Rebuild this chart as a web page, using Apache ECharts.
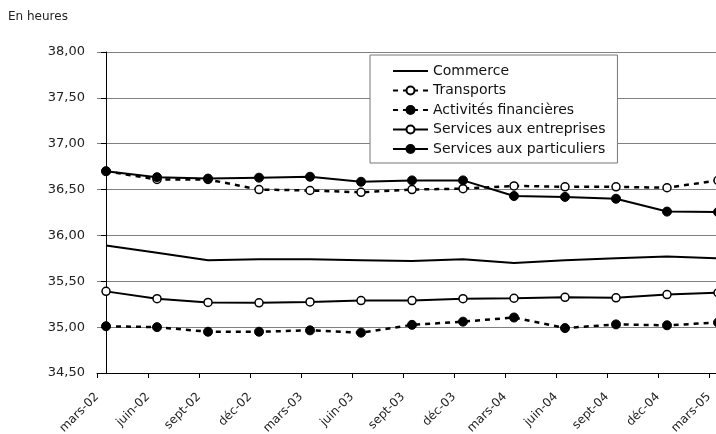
<!DOCTYPE html>
<html>
<head>
<meta charset="utf-8">
<script src="https://cdn.jsdelivr.net/npm/echarts@6/dist/echarts.min.js"></script>
<style>
html,body{margin:0;padding:0;background:#fff;}
#c{width:716px;height:434px;}
</style>
</head>
<body>
<div id="c"></div>
<script>
const categories = ['mars-02','juin-02','sept-02','déc-02','mars-03','juin-03','sept-03','déc-03','mars-04','juin-04','sept-04','déc-04','mars-05'];
const commerce = [35.89,35.81,35.73,35.74,35.74,35.73,35.72,35.74,35.70,35.73,35.75,35.77,35.75];
const transports = [36.70,36.61,36.61,36.50,36.49,36.47,36.50,36.51,36.54,36.53,36.53,36.52,36.60];
const financieres = [35.01,35.00,34.95,34.95,34.965,34.94,35.025,35.06,35.105,34.99,35.03,35.02,35.05];
const entreprises = [35.39,35.31,35.27,35.265,35.275,35.29,35.29,35.31,35.315,35.325,35.32,35.355,35.375];
const particuliers = [36.70,36.635,36.62,36.63,36.64,36.585,36.60,36.60,36.43,36.42,36.40,36.26,36.255];
const seriesNames = ['Commerce','Transports','Activités financières','Services aux entreprises','Services aux particuliers'];
const yTicks = {min:34.5, max:38, step:0.5};

const OFF = 0.177;
const FONT = 'DejaVu Sans';
function pts(arr){ return arr.map((v,i)=>[i,v]); }

const chart = echarts.init(document.getElementById('c'), null, {renderer:'canvas'});
const dashed = {color:'#000', width:2.5, type:[5,5]};
const solid = {color:'#000', width:2};
const openIt = {color:'#fff', borderColor:'#000', borderWidth:1.5};
const fillIt = {color:'#000', borderColor:'#000', borderWidth:1};

chart.setOption({
  animation:false,
  textStyle:{fontFamily:FONT},
  graphic:[{type:'text', left:8, top:11, style:{text:'En heures', font:'12px "DejaVu Sans"', fill:'#222'}}],
  grid:{left:97, top:52, bottom:61, right:-2, containLabel:false, outerBoundsMode:'none'},
  legend:{
    orient:'vertical', left:370, top:55,
    padding:[9,12,7,22], itemGap:5.5, itemWidth:35, itemHeight:10,
    borderColor:'#777', borderWidth:1, backgroundColor:'#fff',
    textStyle:{fontFamily:FONT, fontSize:14, color:'#111', padding:[0,0,0,0]},
    data:[
      {name:seriesNames[0], itemStyle:{opacity:0}},
      seriesNames[1], seriesNames[2], seriesNames[3], seriesNames[4]
    ]
  },
  xAxis:{
    type:'value', min:-OFF, max:12, interval:1,
    axisLine:{show:true, onZero:false, lineStyle:{color:'#000', width:1}},
    axisTick:{show:true, length:5, lineStyle:{color:'#000'}},
    splitLine:{show:false},
    axisLabel:{
      rotate:45, margin:22, fontFamily:FONT, fontSize:12, color:'#222', showMaxLabel:false,
      formatter:function(v){
        const k = v + OFF; const r = Math.round(k);
        if (Math.abs(k-r) > 0.01 || r<0 || r>=categories.length) return '';
        return categories[r];
      }
    }
  },
  yAxis:{
    type:'value', min:yTicks.min, max:yTicks.max, interval:yTicks.step,
    axisLine:{show:true, lineStyle:{color:'#000', width:1}},
    axisTick:{show:true, length:5, lineStyle:{color:'#000'}},
    splitLine:{show:true, lineStyle:{color:'#808080', width:1}},
    axisLabel:{margin:12, fontFamily:FONT, fontSize:13, color:'#222',
      formatter:v=>v.toFixed(2).replace('.',',')}
  },
  series:[
    {name:seriesNames[0], type:'line', data:pts(commerce), symbol:'none', lineStyle:solid, itemStyle:{color:'#000'}},
    {name:seriesNames[1], type:'line', data:pts(transports), symbol:'circle', symbolSize:8, lineStyle:dashed, itemStyle:openIt},
    {name:seriesNames[2], type:'line', data:pts(financieres), symbol:'circle', symbolSize:9, lineStyle:dashed, itemStyle:fillIt},
    {name:seriesNames[3], type:'line', data:pts(entreprises), symbol:'circle', symbolSize:8, lineStyle:solid, itemStyle:openIt},
    {name:seriesNames[4], type:'line', data:pts(particuliers), symbol:'circle', symbolSize:9, lineStyle:solid, itemStyle:fillIt}
  ]
});
</script>
</body>
</html>
